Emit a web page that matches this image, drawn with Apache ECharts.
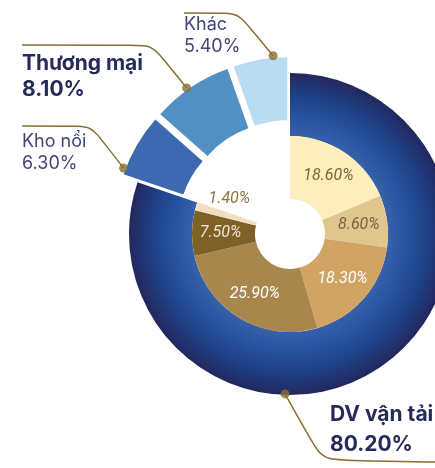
<!DOCTYPE html>
<html>
<head>
<meta charset="utf-8">
<script src="https://cdn.jsdelivr.net/npm/echarts/dist/echarts.min.js"></script>
<style>
  html, body { margin: 0; padding: 0; background: #fff; }
  #chart { width: 435px; height: 468px; }
</style>
</head>
<body>
<div id="chart"></div>
<script>
// du lieu
const categories = ['DV vận tải', 'Kho nổi', 'Thương mại', 'Khác'];
const shares = [80.2, 6.3, 8.1, 5.4];
const subValues = [18.6, 8.6, 18.3, 25.9, 7.5, 1.4];

// bo cuc
const CX = 290, CY = 234;
const outerColors = ['#2a4f98', '#3d69b2', '#5290c3', '#b9dcf2'];
const subColors = ['#fdeebd', '#e0c58d', '#d2a464', '#a8874d', '#7e6127', '#f1e0c0'];
const subLabelColors = ['#75653f', '#75653f', '#ffffff', '#ffffff', '#efe4cc', '#8a7447'];
const labelPos = [[330, 400], [22, 131], [22, 51], [184, 14]];
const elbows = [
  [[322, 460], [435, 462]],
  [[91, 126], [22, 126]],
  [[152, 45], [22, 45]],
  [[238, 13], [184, 13]]
];
const anchors = [[160, 50.5], [179, 81.0], [179, 90.2], [179, 98.5]]; // [ban kinh, goc %]
const boldItem = [true, false, true, false];
const lineGap = [30, 22, 26, 22];

const gold = '#8b6d2f';
const pct = v => v.toFixed(2) + '%';

const anchorPx = (i) => {
  const a = anchors[i][1] / 100 * Math.PI * 2;
  const r = anchors[i][0];
  return [CX + r * Math.sin(a), CY - r * Math.cos(a)];
};

const ringGradient = {
  type: 'radial', x: CX, y: CY, r: 161, global: true,
  colorStops: [
    { offset: 0.6, color: '#3a62ac' },
    { offset: 0.72, color: '#2653a0' },
    { offset: 0.86, color: '#1f4186' },
    { offset: 1, color: '#22275e' }
  ]
};

const outerData = categories.map((name, i) => ({
  name: name,
  value: shares[i],
  selected: i > 0,
  itemStyle: { color: i === 0 ? ringGradient : outerColors[i] }
}));

// pie trong suot chi de dat nhan + duong dan
const labelData = categories.map((name, i) => {
  const b = boldItem[i];
  return {
    name: name,
    value: shares[i],
    label: {
      formatter: '{n|' + name + '}\n{n|' + pct(shares[i]) + '}',
      rich: {
        n: {
          fontFamily: 'Inter',
          fontSize: b ? 21 : 18,
          fontWeight: b ? 'bold' : 'normal',
          color: b ? '#252a57' : '#41467a',
          lineHeight: lineGap[i]
        }
      }
    }
  };
});

const subSum = subValues.reduce((s, v) => s + v, 0);
const innerData = subValues.map((v, i) => ({
  value: v,
  itemStyle: { color: subColors[i] },
  label: {
    color: subLabelColors[i],
    offset: i === 5 ? [6, -15] : [0, 0]
  }
}));
innerData.push({
  value: +(100 - subSum).toFixed(1),
  itemStyle: { color: 'rgba(0,0,0,0)' },
  label: { show: false },
  emphasis: { disabled: true }
});

const option = {
  animation: false,
  polar: { center: [CX, CY], radius: 200 },
  angleAxis: { type: 'value', min: 0, max: 100, startAngle: 90, clockwise: true, show: false },
  radiusAxis: { type: 'value', min: 0, max: 200, show: false },
  series: [
    {
      type: 'pie',
      center: [CX, CY],
      radius: [98, 161],
      startAngle: 90,
      clockwise: true,
      silent: true,
      itemStyle: { color: 'rgba(0,0,0,0)' },
      avoidLabelOverlap: false,
      data: labelData,
      label: { show: true, position: 'outside' },
      labelLine: {
        show: true,
        smooth: 0.12,
        lineStyle: { color: gold, width: 1.5 }
      },
      labelLayout: function (params) {
        const i = params.dataIndex;
        return {
          x: labelPos[i][0],
          y: labelPos[i][1],
          align: 'left',
          verticalAlign: 'top',
          labelLinePoints: [anchorPx(i), elbows[i][0], elbows[i][1]]
        };
      }
    },
    {
      type: 'pie',
      center: [CX, CY],
      radius: [98, 161],
      startAngle: 90,
      clockwise: true,
      selectedMode: 'multiple',
      selectedOffset: 16,
      emphasis: { scale: false },
      label: { show: false },
      labelLine: { show: false },
      data: outerData
    },
    {
      type: 'pie',
      center: [CX, CY],
      radius: [35, 98],
      startAngle: 90,
      clockwise: true,
      avoidLabelOverlap: false,
      emphasis: { scale: false },
      label: {
        show: true,
        position: 'inside',
        formatter: p => pct(p.value),
        fontFamily: 'Roboto',
        fontStyle: 'italic',
        fontSize: 16
      },
      labelLine: { show: false },
      data: innerData
    },
    {
      type: 'scatter',
      coordinateSystem: 'polar',
      symbolSize: 9,
      itemStyle: { color: gold },
      z: 5,
      data: anchors.map(a => [a[0], a[1]])
    }
  ]
};

const chart = echarts.init(document.getElementById('chart'));
chart.setOption(option);
</script>
</body>
</html>
